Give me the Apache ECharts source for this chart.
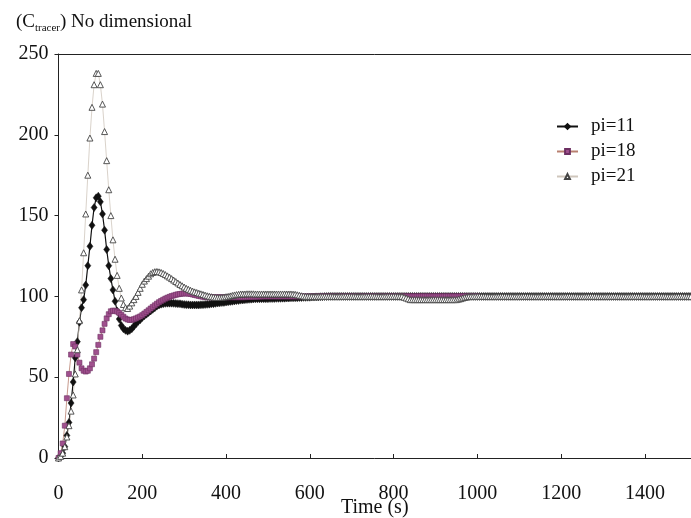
<!DOCTYPE html>
<html>
<head>
<meta charset="utf-8">
<script src="https://cdn.jsdelivr.net/npm/echarts@6/dist/echarts.min.js"></script>
<style>
html,body{margin:0;padding:0;background:#fff;}
#chart{width:691px;height:518px;}
</style>
</head>
<body>
<div id="chart"></div>
<script>
// Sampling times (s)
const times = [
0,5,10,15,20,25,30,35,40,45,50,55,60,65,70,75,80,85,90,95,
100,105,110,115,120,125,130,135,140,145,150,155,160,165,170,175,180,185,190,195,
200,205,210,215,220,225,230,235,240,245,250,255,260,265,270,275,280,285,290,295,
300,305,310,315,320,325,330,335,340,345,350,355,360,365,370,375,380,385,390,395,
400,405,410,415,420,425,430,435,440,445,450,455,460,465,470,475,480,485,490,495,
500,505,510,515,520,525,530,535,540,545,550,555,560,565,570,575,580,585,590,595,
600,605,610,615,620,625,630,635,640,645,650,655,660,665,670,675,680,685,690,695,
700,705,710,715,720,725,730,735,740,745,750,755,760,765,770,775,780,785,790,795,
800,805,810,815,820,825,830,835,840,845,850,855,860,865,870,875,880,885,890,895,
900,905,910,915,920,925,930,935,940,945,950,955,960,965,970,975,980,985,990,995,
1000,1005,1010,1015,1020,1025,1030,1035,1040,1045,1050,1055,1060,1065,1070,1075,1080,1085,1090,1095,
1100,1105,1110,1115,1120,1125,1130,1135,1140,1145,1150,1155,1160,1165,1170,1175,1180,1185,1190,1195,
1200,1205,1210,1215,1220,1225,1230,1235,1240,1245,1250,1255,1260,1265,1270,1275,1280,1285,1290,1295,
1300,1305,1310,1315,1320,1325,1330,1335,1340,1345,1350,1355,1360,1365,1370,1375,1380,1385,1390,1395,
1400,1405,1410,1415,1420,1425,1430,1435,1440,1445,1450,1455,1460,1465,1470,1475,1480,1485,1490,1495,
1500,1505,1510
];

// pi=11 (black diamonds)
const pi11 = [
0,1,3,7,14,22,34,47,62,72,84,93,98,107,119,131,144,155,161,162,
158.5,151,141,129,119,111,104,97,91,86,82,80,79,78.5,79,80,81.5,83,84.5,85.5,
87,88,89,90,91,92,93,94,94.7,95.2,95.5,95.7,95.8,95.8,95.8,95.7,95.6,95.5,95.4,95.2,
95,94.9,94.8,94.7,94.7,94.7,94.7,94.7,94.8,94.9,95,95.1,95.2,95.4,95.5,95.7,95.9,96,96.2,96.3,
96.5,96.7,96.9,97,97.2,97.4,97.5,97.7,97.8,98,98.1,98.2,98.3,98.4,98.5,98.5,98.5,98.6,98.6,98.6,
98.6,98.7,98.7,98.7,98.8,98.8,98.8,98.9,98.9,99,99,99.1,99.1,99.2,99.2,99.3,99.3,99.4,99.4,99.5,
99.5,99.6,99.6,99.7,99.7,99.8,99.8,99.9,99.9,100,100,100,100,100,100,100,100,100,100,100,
100,100,100,100,100,100,100,100,100,100,100,100,100,100,100,100,100,100,100,100,
100,100,100,100,100,100,100,100,100,100,100,100,100,100,100,100,100,100,100,100,
100,100,100,100,100,100,100,100,100,100,100,100,100,100,100,100,100,100,100,100,
100,100,100,100,100,100,100,100,100,100,100,100,100,100,100,100,100,100,100,100,
100,100,100,100,100,100,100,100,100,100,100,100,100,100,100,100,100,100,100,100,
100,100,100,100,100,100,100,100,100,100,100,100,100,100,100,100,100,100,100,100,
100,100,100,100,100,100,100,100,100,100,100,100,100,100,100,100,100,100,100,100,
100,100,100,100,100,100,100,100,100,100,100,100,100,100,100,100,100,100,100,100,
100,100,100
];

// pi=18 (purple squares), recorded up to 1000 s
const pi18 = [
0,3,9,20,37,52,64,70.5,69,64,59,55.5,54,53.5,54,55.5,58,61.5,65.5,70,
75,79,83,86.4,89,90.8,91.2,91.1,90.6,89.8,88.6,87.4,86.3,85.7,85.4,85.5,85.9,86.4,87,87.6,
88.4,89.4,90.4,91.4,92.5,93.5,94.5,95.5,96.4,97.2,97.9,98.6,99.2,99.7,100.2,100.6,101,101.3,101.5,101.7,
101.8,101.8,101.7,101.5,101.2,100.9,100.6,100.3,100,99.8,99.6,99.5,99.5,99.5,99.5,99.5,99.5,99.5,99.5,99.5,
99.5,99.5,99.5,99.5,99.5,99.5,99.5,99.5,99.5,99.5,99.6,99.6,99.7,99.7,99.8,99.8,99.9,99.9,100,100,
100,100,100,100,100,100,100,100,100,100,100,100,100,100,100,100,100,100,100,100,
100,100,100,100,100,100,100,100,100,100,100,100,100,100,100,100,100,100,100,100,
100,100,100,100,100,100,100,100,100,100,100,100,100,100,100,100,100,100,100,100,
100,100,100,100,100,100,100,100,100,100,100,100,100,100,100,100,100,100,100,100,
100,100,100,100,100,100,100,100,100,100,100,100,100,100,100,100,100,100,100,100,
100
];

// pi=21 (open triangles)
const pi21 = [
0,1,3,7,13,20,29,39,52,67,85,104,127,151,175,198,217,231,238,238,
231,219,202,184,166,150,135,123,113,105,99,95,93,92.5,94,96,98,100,102.5,105,
107.5,109.5,111,112.5,114,114.8,115.3,115.4,115.2,114.8,114.2,113.5,112.7,111.9,111,110.1,109.2,108.3,107.4,106.6,
105.8,105,104.4,103.8,103.3,102.8,102.4,102,101.6,101.2,100.8,100.4,100.1,99.8,99.6,99.4,99.3,99.3,99.4,99.6,
99.8,100,100.3,100.6,100.9,101.1,101.3,101.5,101.5,101.5,101.6,101.6,101.6,101.6,101.5,101.5,101.5,101.5,101.5,101.5,
101.5,101.5,101.5,101.5,101.5,101.5,101.5,101.5,101.5,101.5,101.5,101.5,101.4,101.3,101,100.7,100.4,100.2,100,100,
100,100,100,100,100,100,100,100,100,100,100,100,100,100,100,100,100,100,100,100,
100,100,100,100,100,100,100,100,100,100,100,100,100,100,100,100,100,100,100,100,
100,100,100,100,100,99.5,99,98.5,98,98,98,98,98,98,98,98,98,98,98,98,
98,98,98,98,98,98,98,98,98,98,98,98.3,98.6,99,99.4,99.7,100,100,100,100,
100,100,100,100,100,100,100,100,100,100,100,100,100,100,100,100,100,100,100,100,
100,100,100,100,100,100,100,100,100,100,100,100,100,100,100,100,100,100,100,100,
100,100,100,100,100,100,100,100,100,100,100,100,100,100,100,100,100,100,100,100,
100,100,100,100,100,100,100,100,100,100,100,100,100,100,100,100,100,100,100,100,
100,100,100,100,100,100,100,100,100,100,100,100,100,100,100,100,100,100,100,100,
100,100,100
];

const seriesNames = ['pi=11', 'pi=18', 'pi=21'];
const xTicks = [0, 200, 400, 600, 800, 1000, 1200, 1400];
const yTicks = [0, 50, 100, 150, 200, 250];

const FONT = 'Liberation Serif';
const pairs = (vals) => vals.map((v, i) => [times[i], v]);

const chart = echarts.init(document.getElementById('chart'), null, {renderer: 'canvas'});
chart.setOption({
  animation: false,
  backgroundColor: '#ffffff',
  title: {
    text: '{a|(C}{b|tracer}{a|) No dimensional}',
    left: 16, top: 10, padding: 0,
    textStyle: {
      fontWeight: 'normal',
      rich: {
        a: {fontFamily: FONT, fontSize: 19, fontWeight: 'normal', color: '#111', lineHeight: 24},
        b: {fontFamily: FONT, fontSize: 11, fontWeight: 'normal', color: '#111', lineHeight: 11, verticalAlign: 'bottom'}
      }
    }
  },
  legend: {
    data: seriesNames,
    orient: 'vertical',
    left: 551, top: 112,
    itemWidth: 21, itemHeight: 6, itemGap: 6,
    textStyle: {fontFamily: FONT, fontSize: 19, color: '#111', padding: [0, 0, 0, 8]}
  },
  grid: {left: 58.5, top: 54, right: 0, bottom: 60, containLabel: false, outerBoundsMode: 'none'},
  xAxis: [{
    type: 'value', min: 0, max: 1510, interval: 200,
    name: 'Time (s)', nameLocation: 'middle', nameGap: 40, nameMoveOverlap: false,
    nameTextStyle: {fontFamily: FONT, fontSize: 20, color: '#111'},
    axisLine: {show: true, lineStyle: {color: '#222', width: 1}},
    axisTick: {show: true, inside: true, length: 4, lineStyle: {color: '#222'}},
    axisLabel: {fontFamily: FONT, fontSize: 20, color: '#111', margin: 26, showMaxLabel: false,
      formatter: (v) => xTicks.includes(v) ? String(v) : ''},
    splitLine: {show: false}
  }, {
    type: 'value', min: 0, max: 1510, position: 'top',
    axisLine: {show: true, onZero: false, lineStyle: {color: '#222', width: 1}},
    axisTick: {show: false}, axisLabel: {show: false}, splitLine: {show: false}
  }],
  yAxis: {
    type: 'value', min: 0, max: 250, interval: 50,
    axisLine: {show: true, lineStyle: {color: '#222', width: 1}},
    axisTick: {show: true, inside: false, length: 4, lineStyle: {color: '#222'}},
    axisLabel: {fontFamily: FONT, fontSize: 20, color: '#111', margin: 10,
      formatter: (v) => yTicks.includes(v) ? String(v) : ''},
    splitLine: {show: false}
  },
  series: [{
    name: seriesNames[0], type: 'line', data: pairs(pi11),
    showAllSymbol: true, symbol: 'diamond', symbolSize: [6, 8],
    lineStyle: {color: '#111', width: 1.2},
    itemStyle: {color: '#111', borderColor: '#111', borderWidth: 0.5}
  }, {
    name: seriesNames[1], type: 'line', data: pairs(pi18),
    showAllSymbol: true, symbol: 'rect', symbolSize: 5,
    lineStyle: {color: '#b98070', width: 0.8},
    itemStyle: {color: '#a0508e', borderColor: '#6d2f62', borderWidth: 0.6}
  }, {
    name: seriesNames[2], type: 'line', data: pairs(pi21),
    showAllSymbol: true, symbol: 'triangle', symbolSize: 6,
    lineStyle: {color: '#cfc6bc', width: 0.8},
    itemStyle: {color: '#ffffff', borderColor: '#444', borderWidth: 0.9}
  }]
});
</script>
</body>
</html>
